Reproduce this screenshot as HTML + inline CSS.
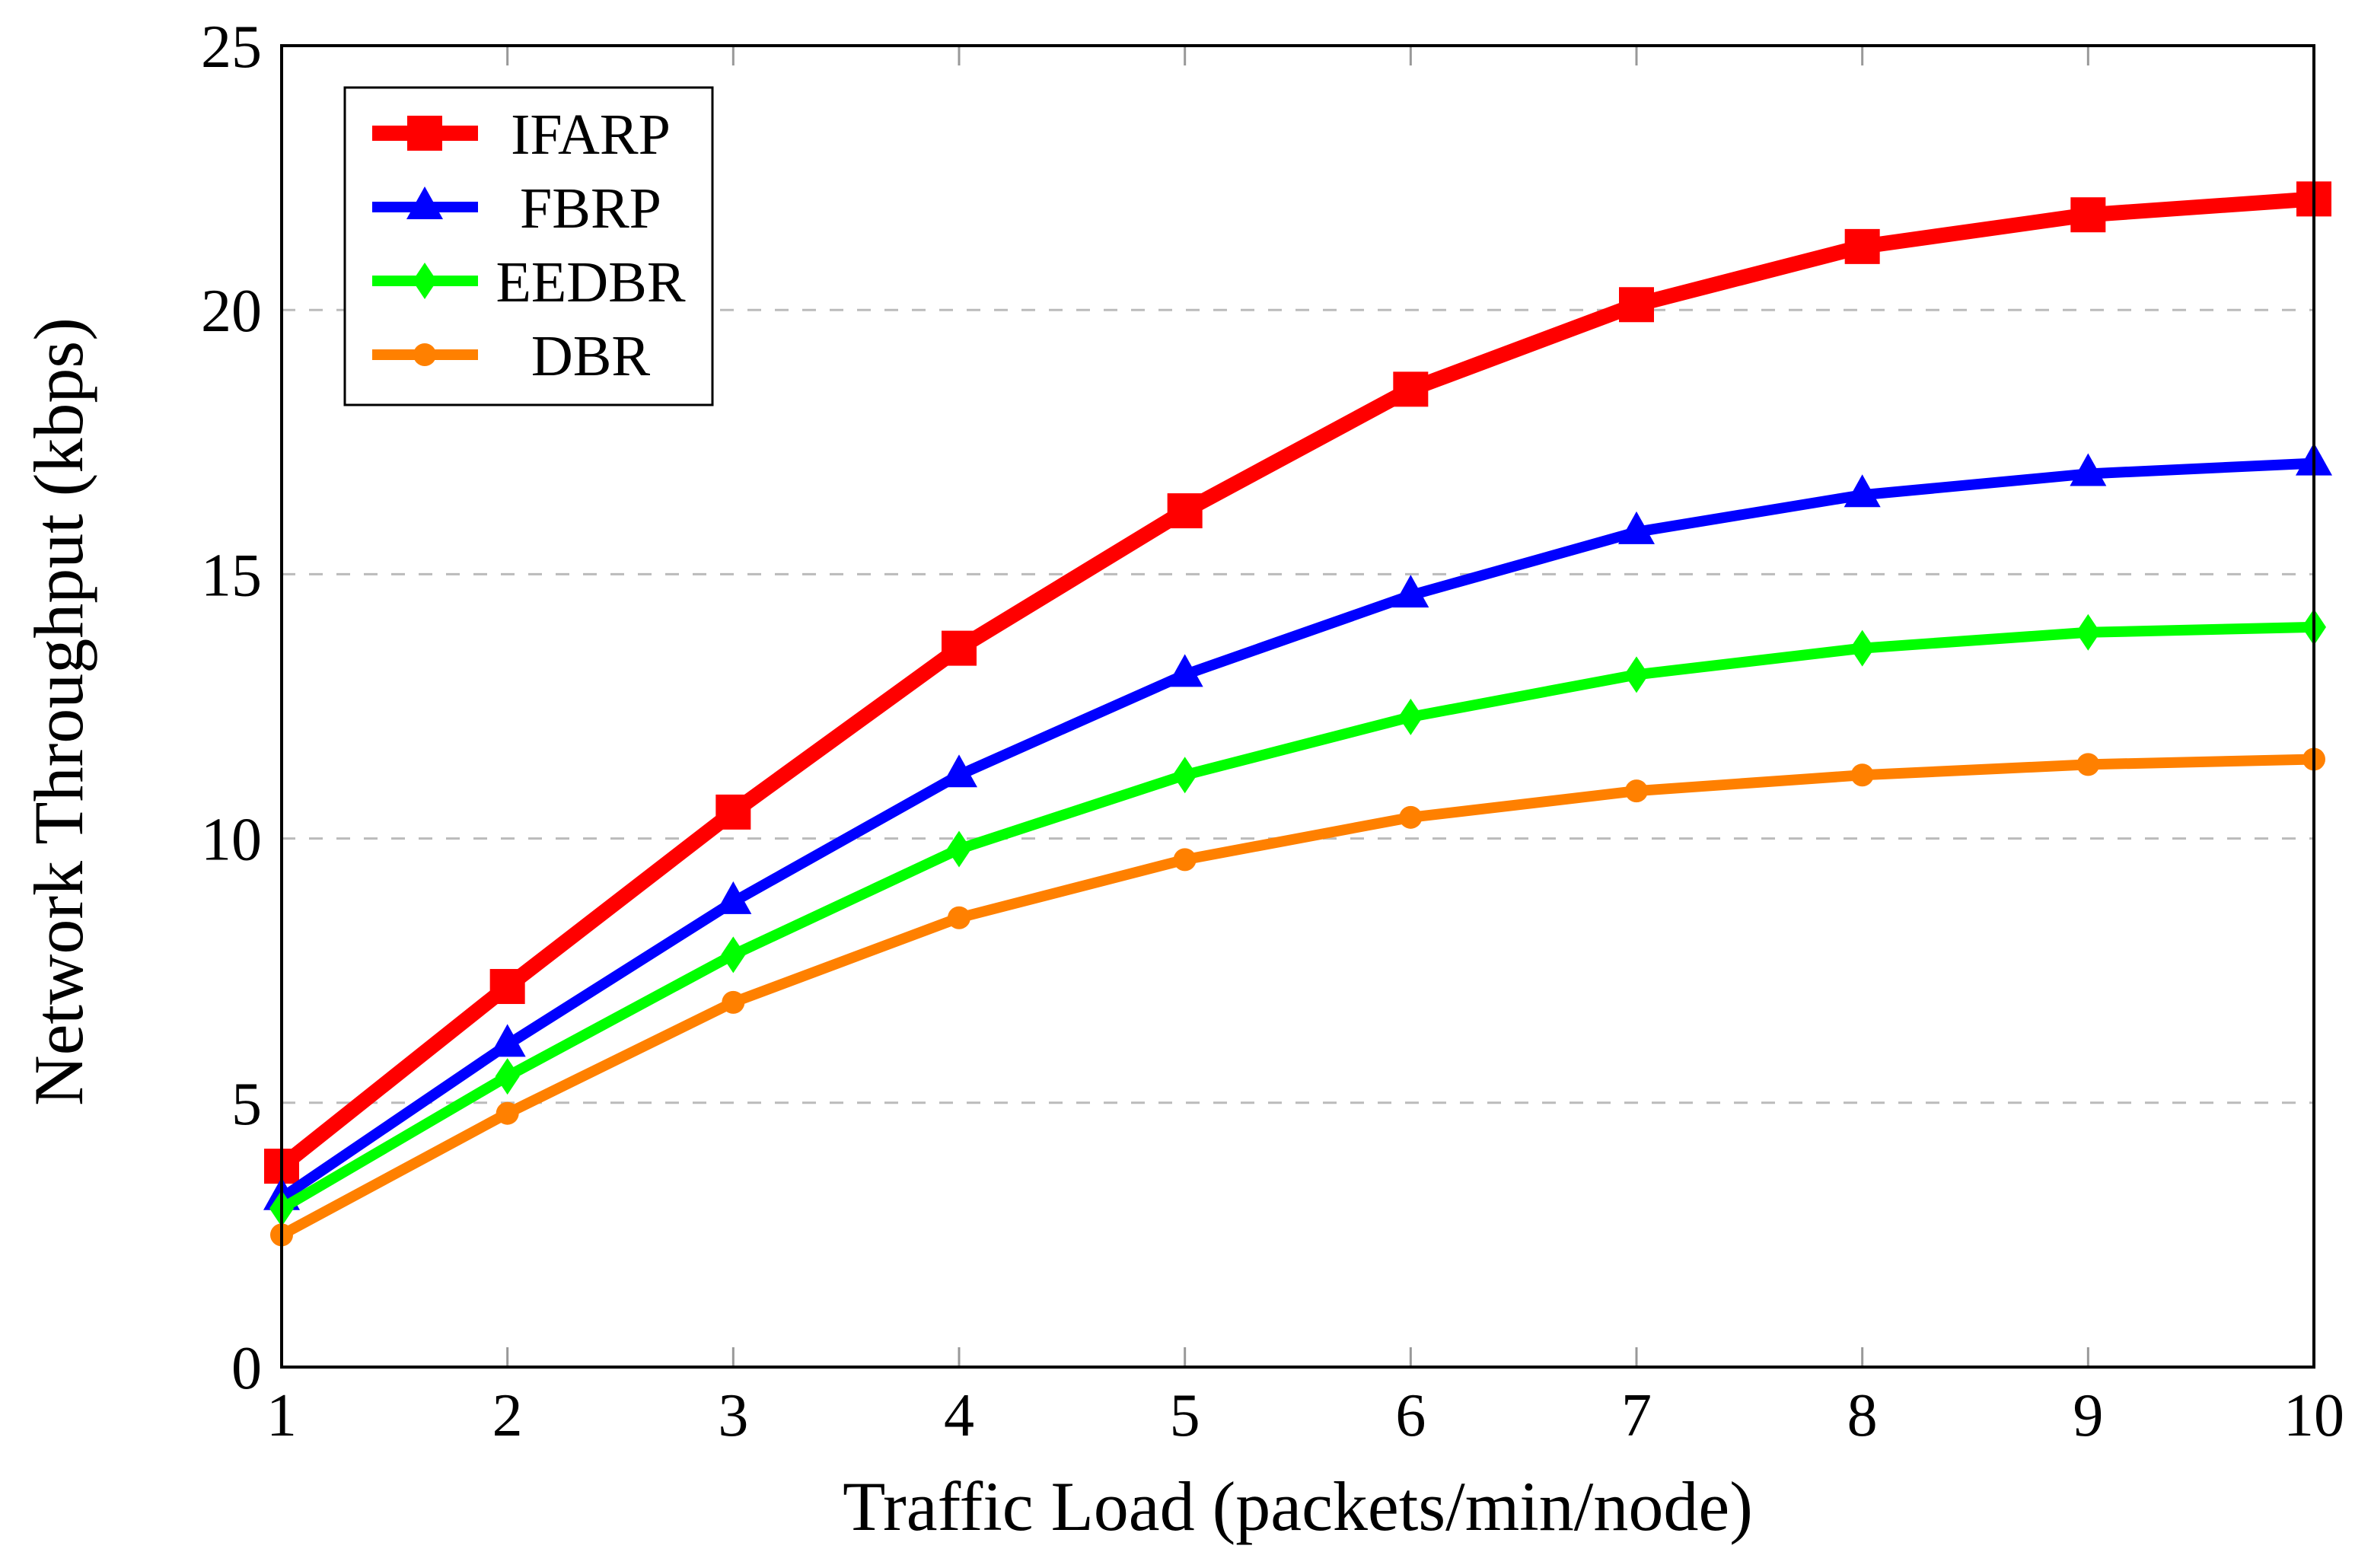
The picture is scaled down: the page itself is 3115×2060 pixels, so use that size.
<!DOCTYPE html>
<html><head><meta charset="utf-8"><style>
html,body{margin:0;padding:0;background:#fff}
svg{display:block}
text{font-family:"Liberation Serif",serif;fill:#000}
</style></head><body>
<svg id="chart" width="3115" height="2060" viewBox="0 0 3115 2060" xmlns="http://www.w3.org/2000/svg">
<g id="grid"></g>
<g id="series"></g>
<g id="axes"></g>
<g id="legend"></g>
</svg>
<script>
const categories = [1,2,3,4,5,6,7,8,9,10];
const yTicks = [0,5,10,15,20,25];
const ifarp = [3.8,7.2,10.5,13.6,16.2,18.5,20.1,21.2,21.8,22.1];
const fbrp = [3.2,6.1,8.8,11.2,13.1,14.6,15.8,16.5,16.9,17.1];
const eedbr = [3.0,5.5,7.8,9.8,11.2,12.3,13.1,13.6,13.9,14.0];
const dbr = [2.5,4.8,6.9,8.5,9.6,10.4,10.9,11.2,11.4,11.5];
const seriesNames = ["IFARP","FBRP","EEDBR","DBR"];

const NS="http://www.w3.org/2000/svg";
const L=370,R=3040,T=60,B=1796;
const xs=v=>L+(v-1)/9*(R-L);
const ys=v=>B-v/25*(B-T);
function mk(tag,attrs,parent){const e=document.createElementNS(NS,tag);for(const k in attrs)e.setAttribute(k,attrs[k]);parent.appendChild(e);return e;}
const grid=document.getElementById('grid'),axes=document.getElementById('axes'),ser=document.getElementById('series'),leg=document.getElementById('legend');

yTicks.forEach(v=>{
  if(v>0&&v<25){const g=mk('line',{x1:L,x2:R,y1:ys(v),y2:ys(v),stroke:'#bbb','stroke-width':3,'stroke-dasharray':'18 18'},grid);
  
  }
  const t=mk('text',{x:L-26,y:ys(v)+28,'text-anchor':'end','font-size':80},axes);t.textContent=v;
  
  
});
categories.forEach(c=>{
  const x=xs(c);
  mk('line',{x1:x,x2:x,y1:B,y2:B-26,stroke:'#999','stroke-width':3},axes);
  mk('line',{x1:x,x2:x,y1:T,y2:T+26,stroke:'#999','stroke-width':3},axes);
  const t=mk('text',{x:x,y:1886,'text-anchor':'middle','font-size':80},axes);t.textContent=c;
  
  
});
const frame=mk('rect',{x:L,y:T,width:R-L,height:B-T,fill:'none',stroke:'#000','stroke-width':4},axes);


const xt=mk('text',{x:1705,y:2010,'text-anchor':'middle','font-size':92},axes);xt.textContent='Traffic Load (packets/min/node)';


const yt=mk('text',{x:0,y:0,'text-anchor':'middle','font-size':92,transform:'translate(108,935) rotate(-90)'},axes);yt.textContent='Network Throughput (kbps)';



function marker(type,x,y,color,parent){
  let e;
  if(type==='square')e=mk('rect',{x:x-23,y:y-23,width:46,height:46,fill:color},parent);
  else if(type==='tri')e=mk('polygon',{points:`${x},${y-27} ${x+24},${y+16} ${x-24},${y+16}`,fill:color},parent);
  else if(type==='diamond')e=mk('polygon',{points:`${x},${y-24} ${x+16},${y} ${x},${y+24} ${x-16},${y}`,fill:color},parent);
  else e=mk('circle',{cx:x,cy:y,r:15,fill:color},parent);
  return e;
}
const defs=[[ifarp,'#ff0000',20,'square'],[fbrp,'#0000ff',14,'tri'],[eedbr,'#00ff00',14,'diamond'],[dbr,'#ff8000',14,'circle']];
defs.forEach((d,i)=>{
  const g=mk('g',{},ser);
  
  
  const pts=d[0].map((v,j)=>xs(categories[j])+','+ys(v)).join(' ');
  const pl=mk('polyline',{points:pts,fill:'none',stroke:d[1],'stroke-width':d[2],'stroke-linejoin':'round'},g);
  
  
  d[0].forEach((v,j)=>{const m=marker(d[3],xs(categories[j]),ys(v),d[1],g);
    
    });
});
const lb=mk('rect',{x:453,y:115,width:483,height:417,fill:'#fff',stroke:'#000','stroke-width':3},leg);


defs.forEach((d,i)=>{
  const y=175+i*97;
  const g=mk('g',{},leg);
  
  
  mk('line',{x1:489,x2:628,y1:y,y2:y,stroke:d[1],'stroke-width':d[2]},g);
  marker(d[3],558,y,d[1],g);
  const t=mk('text',{x:776,y:y+27,'text-anchor':'middle','font-size':76},g);t.textContent=seriesNames[i];
});
</script>
</body></html>
